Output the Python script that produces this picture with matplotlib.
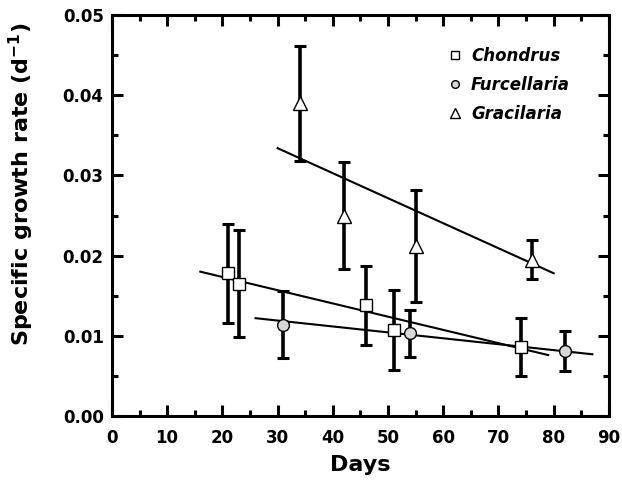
import numpy as np
import matplotlib
matplotlib.use('Agg')
import matplotlib.pyplot as plt
from matplotlib.ticker import MultipleLocator

plt.rcParams['font.family'] = ['DejaVu Sans']
plt.rcParams['font.weight'] = 'bold'
plt.rcParams['mathtext.default'] = 'bf'

# Chondrus
dias_chondrus = [21, 23, 46, 51, 74]
tasa_chondrus = [0.0178, 0.0165, 0.0138, 0.0107, 0.0086]
err_chondrus = [0.0062, 0.0067, 0.0049, 0.0050, 0.0036]

# Furcellaria
dias_furcellaria = [31, 54, 82]
tasa_furcellaria = [0.0114, 0.0103, 0.0081]
err_furcellaria = [0.0042, 0.0029, 0.0025]

# Gracilaria
dias_gracilaria = [34, 42, 55, 76]
tasa_gracilaria = [0.0390, 0.0250, 0.0212, 0.0195]
err_gracilaria = [0.0072, 0.0067, 0.0070, 0.0024]

# Rectas de regresion (extremos)
recta_chondrus_x = [16, 79]
recta_chondrus_y = [0.0180, 0.0076]
recta_furcellaria_x = [26, 87]
recta_furcellaria_y = [0.0122, 0.0077]
recta_gracilaria_x = [30, 80]
recta_gracilaria_y = [0.0334, 0.0178]

fig = plt.figure(figsize=(6.22, 4.86), dpi=100)
ax = fig.add_axes([0.180, 0.144, 0.799, 0.825])

ax.plot(recta_chondrus_x, recta_chondrus_y, color='black', lw=1.5, zorder=2)
ax.plot(recta_furcellaria_x, recta_furcellaria_y, color='black', lw=1.5, zorder=2)
ax.plot(recta_gracilaria_x, recta_gracilaria_y, color='black', lw=1.5, zorder=2)

estilo = dict(fmt='none', ecolor='black', elinewidth=2.6, capsize=4, capthick=2.2, zorder=3)
ax.errorbar(dias_chondrus, tasa_chondrus, yerr=err_chondrus, **estilo)
ax.errorbar(dias_furcellaria, tasa_furcellaria, yerr=err_furcellaria, **estilo)
ax.errorbar(dias_gracilaria, tasa_gracilaria, yerr=err_gracilaria, **estilo)

ax.plot(dias_chondrus, tasa_chondrus, 's', ms=8, mfc='white', mec='black', mew=1.0,
        ls='none', zorder=4, label='Chondrus')
ax.plot(dias_furcellaria, tasa_furcellaria, 'o', ms=8.5, mfc='#d8d8d8', mec='black', mew=1.0,
        ls='none', zorder=4, label='Furcellaria')
ax.plot(dias_gracilaria, tasa_gracilaria, '^', ms=10, mfc='white', mec='black', mew=1.0,
        ls='none', zorder=4, label='Gracilaria')

ax.set_xlim(0, 90)
ax.set_ylim(0, 0.05)
ax.xaxis.set_major_locator(MultipleLocator(10))
ax.xaxis.set_minor_locator(MultipleLocator(5))
ax.yaxis.set_major_locator(MultipleLocator(0.01))
ax.yaxis.set_minor_locator(MultipleLocator(0.005))
ax.yaxis.set_major_formatter(plt.FuncFormatter(lambda v, pos: '%.2f' % v))

ax.tick_params(which='both', direction='in', top=True, right=True, width=2.2)
ax.tick_params(which='major', length=8, labelsize=12, pad=6)
ax.tick_params(axis='x', which='major', pad=9)
ax.tick_params(which='minor', length=4)
for s in ax.spines.values():
    s.set_linewidth(2.2)

ax.set_xlabel('Days', fontsize=16, fontweight='bold', labelpad=6)
ax.set_ylabel('Specific growth rate (d$^{-1}$)', fontsize=16, fontweight='bold')
ax.yaxis.set_label_coords(-0.152, 0.579)

leg = ax.legend(loc='upper right', bbox_to_anchor=(0.952, 0.958), frameon=False,
                prop={'style': 'italic', 'weight': 'bold', 'size': 12},
                handlelength=1.0, handletextpad=0.45, labelspacing=0.66, markerscale=0.65)

fig.savefig('out.png', dpi=100)
